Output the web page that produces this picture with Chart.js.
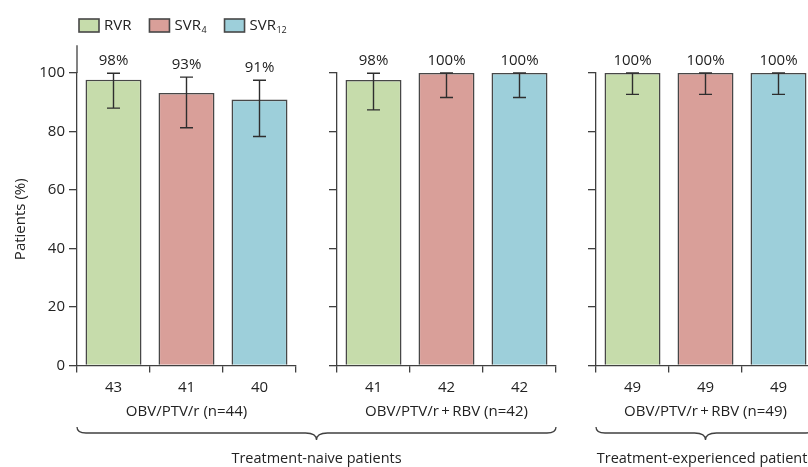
<!DOCTYPE html>
<html>
<head>
<meta charset="utf-8">
<script src="https://cdn.jsdelivr.net/npm/chart.js@4.4.1/dist/chart.umd.min.js"></script>
<style>
html, body { margin: 0; padding: 0; background: #fff; overflow: hidden; width: 808px; height: 467px; }
#wrap { position: relative; width: 808px; height: 467px; overflow: hidden; }
#wrap canvas { position: absolute; left: 0; top: 0; }
</style>
</head>
<body>
<div id="wrap">
  <canvas id="c0" width="820" height="467"></canvas>
  <canvas id="c1" width="820" height="467"></canvas>
  <canvas id="c2" width="820" height="467"></canvas>
</div>
<script>
// ---------------- data ----------------
const groupLabels = ['OBV/PTV/r (n=44)', 'OBV/PTV/r\u2009+\u2009RBV (n=42)', 'OBV/PTV/r\u2009+\u2009RBV (n=49)'];
const seriesNames = ['RVR', 'SVR\u2084', 'SVR\u2081\u2082'];
const rvr = [97.7, 97.6, 100];
const svr4 = [93.2, 100, 100];
const svr12 = [90.9, 100, 100];
const rvrN = [43, 41, 49];
const svr4N = [41, 42, 49];
const svr12N = [40, 42, 49];
const rvrLow = [88.0, 87.4, 92.7];
const rvrHigh = [99.9, 99.9, 100];
const svr4Low = [81.3, 91.6, 92.7];
const svr4High = [98.6, 100, 100];
const svr12Low = [78.3, 91.6, 92.7];
const svr12High = [97.5, 100, 100];
const yTicks = [0, 20, 40, 60, 80, 100];
const yTitle = 'Patients (%)';
const populations = ['Treatment-naive patients', 'Treatment-experienced patients'];
const populationGroups = [[0, 1], [2]];

// ---------------- style / layout ----------------
const FONT = "'Open Sans', 'DejaVu Sans', sans-serif";
const TEXT = '#222222';
const LINE = '#404040';
const BAR_BORDER = '#474747';
const colors = ['#c6dcab', '#d99f99', '#9dcfda'];
const CANVAS_W = 820, CANVAS_H = 467;
const plotLeft = [77, 337, 596];
const plotRight = [296, 556, 815];
const plotTop = 73, plotBottom = 365.5;
const axisLineTopValue = [109.5, 100, 100];

const seriesData = [rvr, svr4, svr12];
const seriesCounts = [rvrN, svr4N, svr12N];
const seriesLow = [rvrLow, svr4Low, svr12Low];
const seriesHigh = [rvrHigh, svr4High, svr12High];

const charts = [];

function splitSub(label) {
  const subs = '\u2080\u2081\u2082\u2083\u2084\u2085\u2086\u2087\u2088\u2089';
  let base = '', sub = '';
  for (const ch of label) {
    const k = subs.indexOf(ch);
    if (k >= 0) sub += String(k); else base += ch;
  }
  return { base, sub };
}

const legendPlugin = {
  id: 'customLegend',
  afterDraw(chart) {
    if (chart.$panel !== 0) return;
    const ctx = chart.ctx;
    ctx.save();
    let x = chart.chartArea.left + 2;
    const boxTop = 19, boxH = 13, boxW = 20, midY = 25.5;
    chart.data.datasets.forEach((ds) => {
      ctx.fillStyle = ds.backgroundColor;
      ctx.fillRect(x, boxTop, boxW, boxH);
      ctx.strokeStyle = BAR_BORDER;
      ctx.lineWidth = 1.6;
      ctx.strokeRect(x, boxTop, boxW, boxH);
      x += boxW + 5;
      const { base, sub } = splitSub(ds.label);
      ctx.fillStyle = TEXT;
      ctx.textBaseline = 'middle';
      ctx.textAlign = 'left';
      ctx.font = '15px ' + FONT;
      ctx.fillText(base, x, midY);
      x += ctx.measureText(base).width;
      if (sub) {
        ctx.font = '9px ' + FONT;
        ctx.fillText(sub, x + 0.5, midY + 5);
        x += ctx.measureText(sub).width + 0.5;
      }
      x += 18;
    });
    ctx.restore();
  }
};

const errorBarPlugin = {
  id: 'errorBars',
  afterDatasetsDraw(chart) {
    const i = chart.$panel;
    const ctx = chart.ctx;
    const y = chart.scales.y;
    ctx.save();
    chart.data.datasets.forEach((ds, s) => {
      const meta = chart.getDatasetMeta(s);
      meta.data.forEach((bar, k) => {
        if (ds.data[k] == null) return;
        const x = bar.x;
        const yLo = y.getPixelForValue(seriesLow[s][i]);
        const yHi = y.getPixelForValue(seriesHigh[s][i]);
        ctx.strokeStyle = '#2e2e2e';
        ctx.lineWidth = 1.4;
        ctx.beginPath();
        ctx.moveTo(x, yLo); ctx.lineTo(x, yHi);
        ctx.moveTo(x - 6.5, yLo); ctx.lineTo(x + 6.5, yLo);
        ctx.moveTo(x - 6.5, yHi); ctx.lineTo(x + 6.5, yHi);
        ctx.stroke();
        ctx.fillStyle = TEXT;
        ctx.font = '15px ' + FONT;
        ctx.textAlign = 'center';
        ctx.textBaseline = 'middle';
        ctx.fillText(Math.round(ds.data[k]) + '%', x, yHi - 12.5);
      });
    });
    ctx.restore();
  }
};

const axisExtPlugin = {
  id: 'axisExt',
  afterDraw(chart) {
    const i = chart.$panel;
    const y = chart.scales.y;
    const top = y.getPixelForValue(axisLineTopValue[i]);
    if (top >= chart.chartArea.top) return;
    const ctx = chart.ctx;
    ctx.save();
    ctx.strokeStyle = LINE;
    ctx.lineWidth = 1.3;
    ctx.beginPath();
    ctx.moveTo(chart.chartArea.left, chart.chartArea.top);
    ctx.lineTo(chart.chartArea.left, top);
    ctx.stroke();
    ctx.restore();
  }
};

const bracePlugin = {
  id: 'braces',
  afterDraw(chart) {
    const i = chart.$panel;
    const ctx = chart.ctx;
    populations.forEach((name, p) => {
      const g = populationGroups[p];
      if (g[g.length - 1] !== i) return;
      const first = g[0];
      const l = first === i ? chart.chartArea.left : charts[first].chartArea.left;
      const r = chart.chartArea.right;
      const c = (l + r) / 2;
      const y0 = 427, y1 = 433, y2 = 440;
      ctx.save();
      ctx.strokeStyle = LINE;
      ctx.lineWidth = 1.3;
      ctx.beginPath();
      ctx.moveTo(l, y0);
      ctx.quadraticCurveTo(l, y1, l + 9, y1);
      ctx.lineTo(c - 11, y1);
      ctx.quadraticCurveTo(c, y1, c, y2);
      ctx.quadraticCurveTo(c, y1, c + 11, y1);
      ctx.lineTo(r - 9, y1);
      ctx.quadraticCurveTo(r, y1, r, y0);
      ctx.stroke();
      ctx.fillStyle = TEXT;
      ctx.font = '14.5px ' + FONT;
      ctx.textAlign = 'center';
      ctx.textBaseline = 'middle';
      ctx.fillText(name, c, 459);
      ctx.restore();
    });
  }
};

function makeChart(i) {
  const datasets = seriesNames.map((name, s) => ({
    label: name,
    data: [0, 1, 2].map(k => (k === s ? seriesData[s][i] : null)),
    backgroundColor: colors[s],
    borderColor: BAR_BORDER,
    borderWidth: 1.6,
    skipNull: true,
    categoryPercentage: 0.767,
    barPercentage: 1
  }));
  const labels = seriesCounts.map(arr => String(arr[i]));
  const chart = new Chart(document.getElementById('c' + i), {
    type: 'bar',
    data: { labels, datasets },
    plugins: [legendPlugin, errorBarPlugin, axisExtPlugin, bracePlugin, {
      id: 'panelTag', beforeInit(c) { c.$panel = i; }
    }],
    options: {
      responsive: false,
      animation: false,
      devicePixelRatio: 1,
      layout: {
        padding: {
          left: i === 0 ? 0 : plotLeft[i] - 10,
          right: CANVAS_W - plotRight[i],
          top: plotTop,
          bottom: 0
        }
      },
      plugins: { legend: { display: false }, tooltip: { enabled: false } },
      scales: {
        x: {
          offset: true,
          grid: { display: true, offset: true, drawOnChartArea: false, drawTicks: true, tickLength: 7, color: LINE, lineWidth: 1.3 },
          border: { display: true, color: LINE, width: 1.3 },
          ticks: { color: TEXT, font: { family: FONT, size: 15 }, padding: 6, maxRotation: 0 },
          title: { display: true, text: groupLabels[i], color: TEXT, font: { family: FONT, size: 15 }, padding: { top: 0, bottom: 46 } },
          afterFit: s => { s.height = CANVAS_H - plotBottom; }
        },
        y: {
          min: 0,
          max: 100,
          afterBuildTicks: s => { s.ticks = yTicks.map(v => ({ value: v })); },
          grid: { display: true, drawOnChartArea: false, drawTicks: true, tickLength: 8, color: LINE, lineWidth: 1.3 },
          border: { display: true, color: LINE, width: 1.3 },
          ticks: { display: i === 0, color: TEXT, font: { family: FONT, size: 15 }, padding: 4 },
          title: { display: i === 0, text: yTitle, color: TEXT, font: { family: FONT, size: 15 }, padding: { top: 12, bottom: 0 } },
          afterFit: s => { s.width = i === 0 ? plotLeft[0] : 10; }
        }
      }
    }
  });
  return chart;
}

for (let i = 0; i < 3; i++) charts.push(makeChart(i));
</script>
</body>
</html>
